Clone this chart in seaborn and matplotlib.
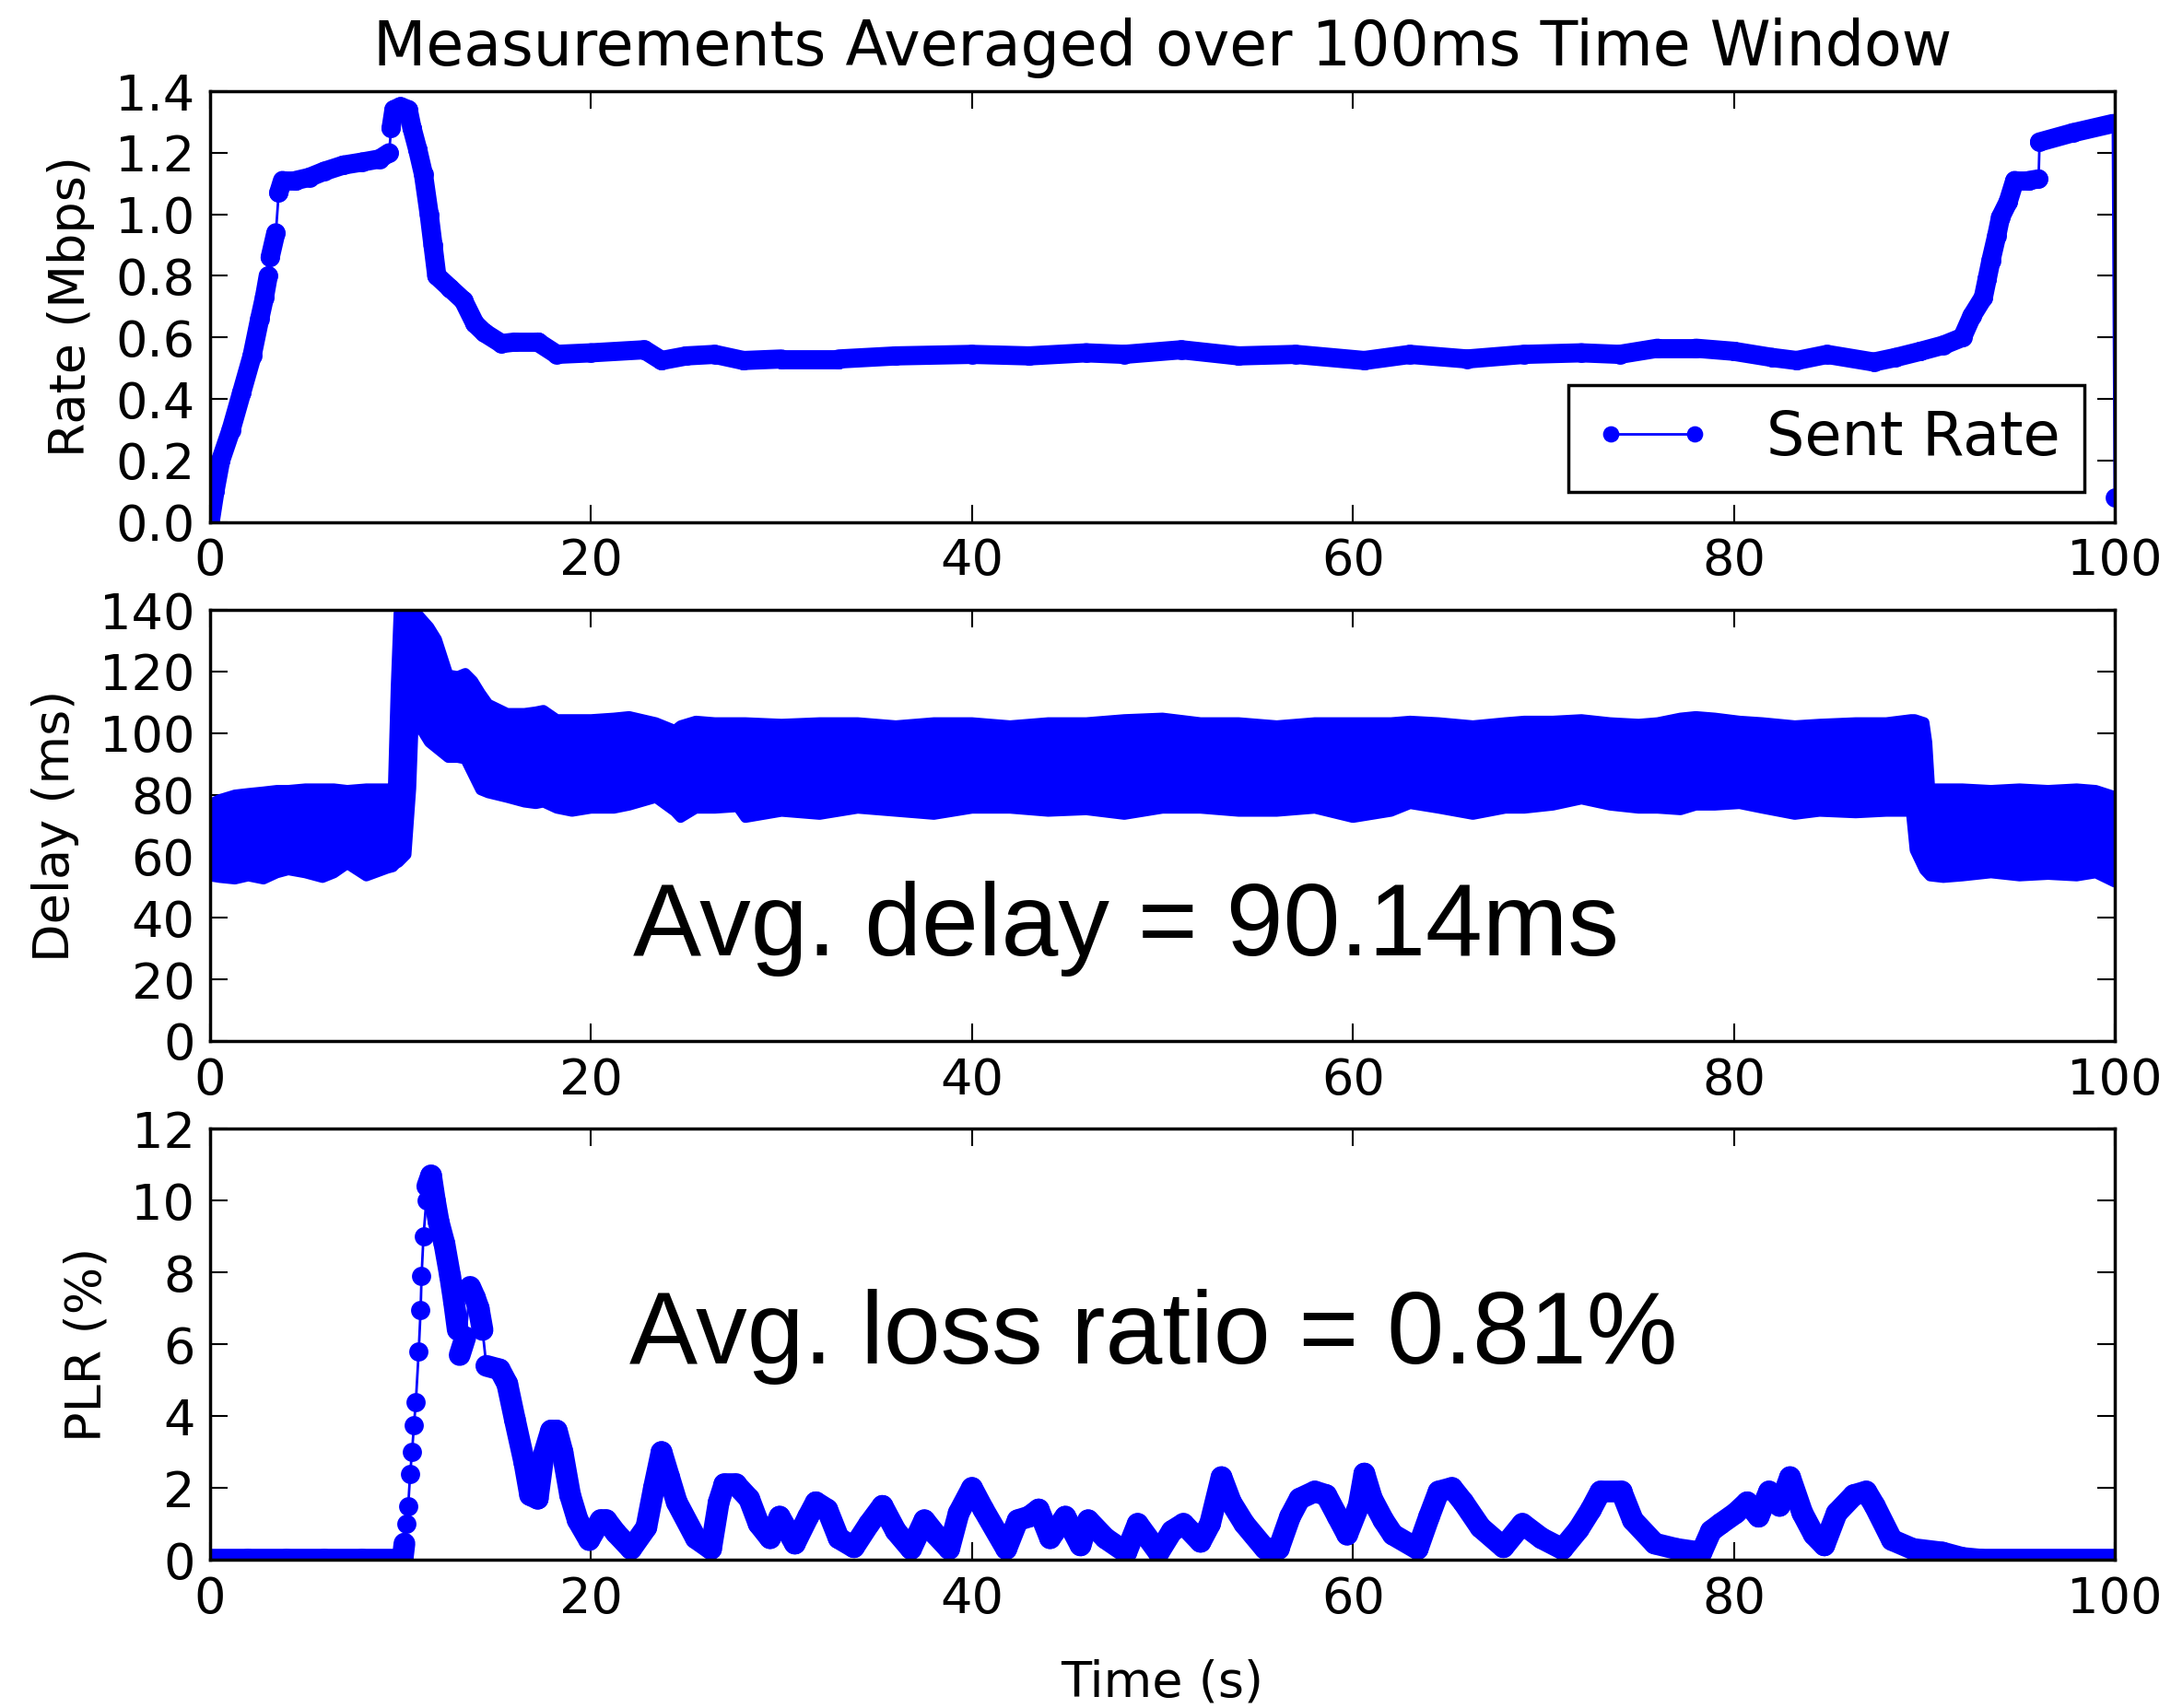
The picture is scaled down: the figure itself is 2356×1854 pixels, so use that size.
import numpy as np
import matplotlib
matplotlib.use("Agg")
import matplotlib.pyplot as plt
import seaborn as sns
from matplotlib.collections import LineCollection

# ---------------- data ----------------
time_ticks = [0, 20, 40, 60, 80, 100]
rate_ticks = [0.0, 0.2, 0.4, 0.6, 0.8, 1.0, 1.2, 1.4]
delay_ticks = [0, 20, 40, 60, 80, 100, 120, 140]
plr_ticks = [0, 2, 4, 6, 8, 10, 12]

title_text = "Measurements Averaged over 100ms Time Window"
rate_label = "Rate (Mbps)"
delay_label = "Delay (ms)"
plr_label = "PLR (%)"
time_label = "Time (s)"
legend_label = "Sent Rate"
delay_note = "Avg. delay = 90.14ms"
loss_note = "Avg. loss ratio = 0.81%"

rate_t = [0, 0.25, 0.55, 1.1, 1.65, 2.2, 2.6, 2.85, 3.05, 3.15, 3.45, 3.6, 3.8, 4.5,
          5.2, 6.0, 7.0, 8.0, 8.9, 9.4, 9.5, 9.65, 10.0, 10.4, 10.6, 10.9, 11.2, 11.5,
          11.7, 11.9, 12.6, 13.3, 13.9, 14.4, 15.3, 16.0, 17.2, 18.2, 20, 22.8, 23.7,
          25, 26.5, 28, 30, 33, 36, 40, 43, 46, 48, 51, 54, 57, 60.6, 63, 66, 69, 72,
          74, 76, 78, 80, 82, 83.3, 84.9, 87.35, 88.5, 89.8, 91, 92.0, 92.5, 93.1,
          93.3, 93.5, 93.8, 94.0, 94.4, 94.75, 95.5, 96.0, 96.05, 97.8, 99.9, 100]
rate_v = [0.0, 0.1, 0.2, 0.3, 0.42, 0.54, 0.66, 0.73, 0.8, 0.86, 0.94, 1.07, 1.11, 1.11,
          1.12, 1.14, 1.16, 1.17, 1.18, 1.2, 1.28, 1.34, 1.35, 1.34, 1.28, 1.21, 1.13, 1.0,
          0.9, 0.8, 0.76, 0.72, 0.645, 0.615, 0.58, 0.585, 0.585, 0.545, 0.55, 0.56, 0.525,
          0.54, 0.545, 0.525, 0.53, 0.53, 0.54, 0.545, 0.54, 0.55, 0.545, 0.56, 0.54, 0.545,
          0.525, 0.545, 0.53, 0.545, 0.55, 0.545, 0.565, 0.565, 0.555, 0.535, 0.525, 0.545,
          0.52, 0.535, 0.555, 0.575, 0.6, 0.67, 0.73, 0.79, 0.85, 0.93, 0.99, 1.04, 1.11,
          1.11, 1.115, 1.235, 1.265, 1.295, 0.08]

delay_t = [0, 0.5, 1.3, 2.0, 2.8, 3.5, 4.1, 5.0, 5.9, 6.5, 7.2, 8.2, 9.3, 9.6, 9.75, 9.9,
           10.3, 10.55, 10.7, 11.0, 11.5, 11.9, 12.5, 13.0, 13.4, 13.8, 14.2, 14.6, 15.6,
           16.5, 17.1, 17.5, 18.2, 19.0, 20.0, 21.2, 22.0, 23.4, 24.4, 24.7, 25.5, 26.5,
           27.7, 28.1, 30, 32, 34, 36, 38, 40, 42, 44, 46, 48, 50, 52, 54, 56, 58, 60, 62,
           63, 64.5, 66.3, 68, 69, 70.5, 72, 73.5, 75, 76, 77.2, 78, 79, 80.3, 81.5, 83.2,
           84.5, 86.4, 88, 89.3, 89.5, 90.0, 90.15, 90.3, 91, 92, 93.5, 95, 96.5, 98, 99, 100]
delay_hi = [77, 78.5, 80, 80.5, 81, 81.5, 81.5, 82, 82, 82, 81.5, 82, 82, 82, 115, 139,
            140, 140, 140, 138, 134.5, 130.5, 119, 118.5, 119.5, 117, 113, 109.5, 106.5,
            106.5, 107, 107.5, 104.5, 104.5, 104.5, 105, 105.5, 103.5, 101, 102.5, 104, 103.5,
            103.5, 103.5, 103, 103.5, 103.5, 102.5, 103.5, 103.5, 102.5, 103.5, 103.5, 104.5,
            105, 103.5, 103.5, 102.5, 103.5, 103.5, 103.5, 104, 103.5, 102.5, 103.5, 104, 104,
            104.5, 103.5, 103, 103.5, 105, 105.5, 105, 104, 103.5, 102.5, 103, 103.5, 103.5,
            104.5, 104.5, 103.5, 97, 82, 82, 82, 81.5, 82, 81.5, 82, 81.5, 79.5]
delay_lo = [53.5, 53, 52.5, 53.5, 52.5, 54.5, 55.5, 54.5, 53, 54.5, 57.5, 53.5, 56, 56.5,
            57.5, 58, 60.5, 82, 107, 102, 97, 95, 92, 92, 91.5, 86.5, 81.5, 80.5, 79, 77.5,
            77, 77.5, 75.5, 74.5, 75.5, 75.5, 76.5, 79, 74.5, 72.5, 75.5, 75.5, 76, 72.5,
            74.5, 73.5, 75.5, 74.5, 73.5, 75.5, 75.5, 74.5, 75, 73.5, 75.5, 75.5, 74.5, 74.5,
            75.5, 72.5, 74.5, 77, 75.5, 73.5, 75.5, 75.5, 76.5, 78.5, 76.5, 75.5, 75.5, 75,
            76.5, 76.5, 77, 75.5, 73.5, 74.5, 74, 74.5, 74.5, 62, 55.5, 54.5, 53.5, 53, 53.5,
            54.5, 53.5, 54, 53.5, 54.5, 51.5]

plr_t = [0, 2, 4, 6, 8, 10, 10.1, 10.2, 10.3, 10.4, 10.5, 10.6, 10.7, 10.8, 10.95, 11.05,
         11.1, 11.2, 11.35, 11.4, 11.6, 11.8, 12.0, 12.3, 12.6, 12.8, 13.0, 13.1, 13.4, 13.65,
         13.9, 14.1, 14.3, 14.5, 15.2, 15.6, 16.0, 16.5, 16.8, 17.2, 17.5, 17.9, 18.2, 18.5,
         18.9, 19.3, 19.9, 20.5, 20.8, 21.3, 22.1, 22.9, 23.3, 23.7, 24.1, 24.5, 25.5, 26.3,
         26.7, 27.0, 27.6, 28.3, 28.8, 29.4, 29.9, 30.7, 31.4, 31.8, 32.4, 33.0, 33.8, 34.6,
         35.3, 36.0, 36.8, 37.5, 38.1, 38.8, 39.3, 40.0, 40.6, 41.8, 42.4, 43.0, 43.5, 44.1,
         44.9, 45.7, 46.1, 47.0, 48.1, 48.7, 49.8, 50.5, 51.1, 52.0, 52.5, 53.1, 53.6, 54.3,
         55.4, 56.1, 56.7, 57.2, 58.0, 58.6, 59.2, 59.7, 60.3, 60.6, 61.0, 61.6, 62.1, 63.4,
         64.0, 64.5, 65.2, 65.8, 66.7, 67.9, 68.9, 69.9, 71.0, 71.85, 72.5, 73.0, 74.1, 74.7,
         75.85, 77.0, 78.3, 78.8, 79.3, 80.1, 80.7, 81.3, 81.85, 82.4, 82.95, 83.6, 84.2,
         84.75, 85.4, 86.3, 86.95, 87.4, 88.3, 89.4, 90.95, 92, 93, 100]
plr_v = [0, 0, 0, 0, 0, 0, 0.0, 0.45, 1.0, 1.5, 2.4, 3.0, 3.75, 4.4, 5.8, 6.95,
         7.9, 9.0, 10.0, 10.4, 10.7, 10.0, 9.4, 8.8, 7.9, 7.2, 6.4, 5.7, 6.2, 7.6,
         7.3, 7.0, 6.4, 5.4, 5.3, 4.9, 3.9, 2.7, 1.8, 1.7, 2.9, 3.6, 3.6, 3.0,
         1.8, 1.1, 0.55, 1.1, 1.1, 0.75, 0.3, 0.9, 2.0, 3.0, 2.3, 1.6, 0.6, 0.3,
         1.6, 2.1, 2.1, 1.7, 1.0, 0.6, 1.2, 0.45, 1.2, 1.6, 1.4, 0.6, 0.35, 1.0,
         1.5, 0.8, 0.3, 1.1, 0.7, 0.3, 1.3, 2.0, 1.4, 0.3, 1.1, 1.2, 1.4, 0.6,
         1.2, 0.4, 1.1, 0.6, 0.2, 1.0, 0.2, 0.8, 1.0, 0.5, 1.0, 2.3, 1.6, 1.0,
         0.3, 0.3, 1.2, 1.7, 1.9, 1.8, 1.2, 0.7, 1.5, 2.4, 1.7, 1.1, 0.7, 0.3,
         1.2, 1.9, 2.0, 1.6, 0.9, 0.35, 1.0, 0.6, 0.3, 0.85, 1.4, 1.9, 1.9, 1.1,
         0.45, 0.3, 0.2, 0.8, 1.0, 1.3, 1.6, 1.2, 1.9, 1.5, 2.3, 1.3, 0.7,
         0.4, 1.3, 1.8, 1.9, 1.5, 0.55, 0.3, 0.2, 0.05, 0, 0]

# ---------------- style ----------------
BLUE = "#0000ff"
BASE = 39
sns.set_style("ticks")
plt.rcParams["font.family"] = ["DejaVu Sans"]
plt.rcParams.update({
    "text.color": "black", "axes.labelcolor": "black",
    "xtick.direction": "in", "ytick.direction": "in",
    "xtick.top": True, "ytick.right": True,
    "xtick.major.size": 14, "ytick.major.size": 14,
    "xtick.major.width": 1.5, "ytick.major.width": 1.5,
    "xtick.major.pad": 12, "ytick.major.pad": 12,
    "xtick.color": "black", "ytick.color": "black",
    "xtick.labelsize": BASE, "ytick.labelsize": BASE,
    "axes.labelsize": BASE, "axes.edgecolor": "black",
    "axes.linewidth": 2.5, "axes.labelpad": 16,
})

MS = 15      # marker size (pt)
THIN = 2.0   # connecting line width


def chain(ax, t, v, slope_max, width):
    """Thick body under the markers where the samples are dense (slow change)."""
    t = np.asarray(t, float)
    v = np.asarray(v, float)
    pts = np.column_stack([t, v])
    segs = np.stack([pts[:-1], pts[1:]], axis=1)
    slope = np.abs(np.diff(v) / np.diff(t))
    lc = LineCollection(segs[slope <= slope_max], linewidths=width, colors=BLUE,
                        capstyle="round", joinstyle="round", zorder=2)
    ax.add_collection(lc)


fig, (ax1, ax2, ax3) = plt.subplots(3, 1, figsize=(23.56, 18.54), dpi=100)
fig.subplots_adjust(left=0.0968, right=0.9741, top=0.9466, bottom=0.0868, hspace=0.204)

# --- panel 1: sent rate ---
chain(ax1, rate_t, rate_v, 0.54, 15)
sns.lineplot(x=rate_t, y=rate_v, ax=ax1, color=BLUE, lw=THIN, marker="o",
             markersize=MS, markeredgewidth=0, estimator=None, sort=False,
             label=legend_label, zorder=3)
ax1.set_xlim(0, 100)
ax1.set_ylim(0, 1.4)
ax1.set_yticks(rate_ticks)
ax1.set_yticklabels([f"{v:.1f}" for v in rate_ticks])
ax1.set_ylabel(rate_label)
ax1.set_title(title_text, fontsize=48, pad=20)
leg = ax1.legend(loc="lower right", numpoints=2, fontsize=47, frameon=True,
                 fancybox=False, framealpha=1, edgecolor="black",
                 handlelength=2.0, handletextpad=0.9, borderpad=0.4,
                 borderaxespad=0.5, markerscale=0.85)
leg.get_frame().set_linewidth(2.5)

# --- panel 2: delay (dense packet-level band) ---
ax2.fill_between(delay_t, delay_lo, delay_hi, color=BLUE, lw=0, zorder=2)
for edge in (delay_hi, delay_lo):
    sns.lineplot(x=delay_t, y=edge, ax=ax2, color=BLUE, lw=8, estimator=None,
                 sort=False, solid_joinstyle="round", solid_capstyle="round", zorder=3)
ax2.set_xlim(0, 100)
ax2.set_ylim(0, 140)
ax2.set_yticks(delay_ticks)
ax2.set_ylabel(delay_label)
ax2.text(22.2, 27.8, delay_note, fontsize=80, family=["Liberation Sans", "DejaVu Sans"],
         ha="left", va="baseline", color="black")

# --- panel 3: packet loss ratio ---
chain(ax3, plr_t, plr_v, 4.6, 17)
sns.lineplot(x=plr_t, y=plr_v, ax=ax3, color=BLUE, lw=THIN, marker="o",
             markersize=MS, markeredgewidth=0, estimator=None, sort=False, zorder=3)
ax3.set_xlim(0, 100)
ax3.set_ylim(0, 12)
ax3.set_yticks(plr_ticks)
ax3.set_ylabel(plr_label)
ax3.set_xlabel(time_label, labelpad=28)
ax3.text(22.0, 5.46, loss_note, fontsize=80, family=["Liberation Sans", "DejaVu Sans"],
         ha="left", va="baseline", color="black")

for ax in (ax1, ax2, ax3):
    ax.set_xticks(time_ticks)
    for s in ax.spines.values():
        s.set_visible(True)
        s.set_color("black")
        s.set_linewidth(2.5)
        s.set_zorder(5)

fig.savefig("out.png", dpi=100)
